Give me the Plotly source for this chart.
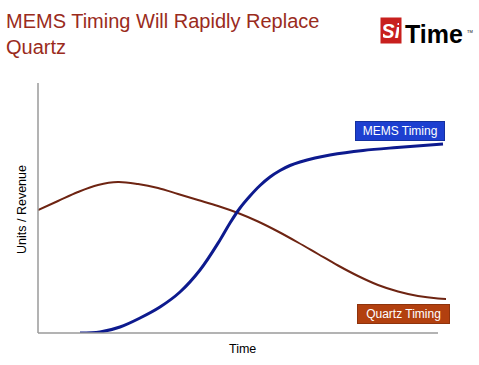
import plotly.graph_objects as go

# Data (arbitrary units)
quartz_x = [0, 20, 40, 60, 80, 100, 120, 140, 160, 180, 200, 220, 240, 260, 280, 300, 320, 340, 360, 380, 400, 409]
quartz_y = [123, 132, 141, 148, 151, 149, 145, 139, 133, 127, 120, 111.5, 101.5, 90.5, 79, 67.5, 57, 48, 41.5, 37, 34.5, 34]

mems_x = [42, 62, 82, 102, 122, 142, 162, 182, 192, 202, 212, 222, 232, 242, 252, 262, 277, 292, 325, 359, 405]
mems_y = [0, 1, 6, 15, 26, 41, 63, 93, 110, 125, 137, 147.5, 156, 162.5, 167.5, 171, 175, 178, 182.5, 185.5, 189]

series_names = ["Quartz Timing", "MEMS Timing"]
title_text = "MEMS Timing Will Rapidly Replace<br>Quartz"
x_title = "Time"
y_title = "Units / Revenue"

W, H = 479, 365
L, R, T, B = 38, 33, 83, 32
pw = W - L - R
ph = H - T - B

FONT = "Arial, Liberation Sans, sans-serif"

def px(xp):
    return (xp - L) / pw

def py(yp):
    return (H - B - yp) / ph

fig = go.Figure()
fig.add_trace(go.Scatter(x=quartz_x, y=quartz_y, mode="lines", line_shape="spline",
                         line=dict(color="#6e2412", width=2), name=series_names[0]))
fig.add_trace(go.Scatter(x=mems_x, y=mems_y, mode="lines", line_shape="spline",
                         line=dict(color="#0d1a8e", width=3), name=series_names[1]))

def ann(text, x, y, xanchor="center", yanchor="middle", **kw):
    d = dict(text=text, x=px(x), y=py(y), xref="paper", yref="paper",
             xanchor=xanchor, yanchor=yanchor, showarrow=False)
    d.update(kw)
    return d

annotations = [
    ann(title_text, 4, 8, xanchor="left", yanchor="top", align="left",
        font=dict(family=FONT, size=20, color="#9a2b1c")),
    ann(series_names[1], 400, 131,
        font=dict(family=FONT, size=12, color="white"),
        bgcolor="#1d3fd0", bordercolor="#14309f", borderwidth=1, borderpad=2,
        width=84, height=14),
    ann(series_names[0], 403, 314,
        font=dict(family=FONT, size=12, color="white"),
        bgcolor="#b2400f", bordercolor="#8e330c", borderwidth=1, borderpad=2,
        width=87, height=14),
    ann(x_title, 242, 349, font=dict(family=FONT, size=12.5, color="black")),
    ann(y_title, 22, 210, textangle=-90, font=dict(family=FONT, size=12.5, color="black")),
    ann("<b><i>Si</i></b>", 391, 30.5, bgcolor="#c8201e", borderpad=2, width=16, height=21,
        font=dict(family=FONT, size=20, color="white")),
    ann("<b>Time</b>", 403, 34, xanchor="left",
        font=dict(family=FONT, size=25, color="black")),
    ann("TM", 465, 31, xanchor="left",
        font=dict(family=FONT, size=4, color="black")),
]

shapes = [
    dict(type="line", xref="paper", yref="paper", x0=0, x1=px(438), y0=0, y1=0,
         line=dict(color="#9a9a9a", width=1.5)),
    dict(type="line", xref="paper", yref="paper", x0=0, x1=0, y0=0, y1=py(83),
         line=dict(color="#9a9a9a", width=1.5)),
]

fig.update_layout(
    width=W, height=H,
    margin=dict(l=L, r=R, t=T, b=B),
    paper_bgcolor="white", plot_bgcolor="white",
    showlegend=False,
    xaxis=dict(range=[0, pw], showgrid=False, zeroline=False, showticklabels=False,
               showline=False, ticks=""),
    yaxis=dict(range=[0, ph], showgrid=False, zeroline=False, showticklabels=False,
               showline=False, ticks=""),
    annotations=annotations,
    shapes=shapes,
)

fig.write_html("out.html", config={"displayModeBar": False},
               post_script="document.body.style.margin='0';")
